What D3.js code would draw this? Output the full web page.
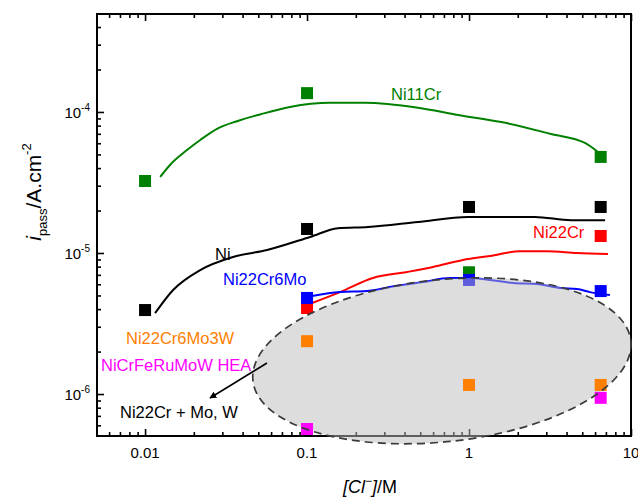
<!DOCTYPE html>
<html>
<head>
<meta charset="utf-8">
<script src="https://cdn.jsdelivr.net/npm/d3@7"></script>
<style>
  body { margin: 0; background: #fff; }
  svg text { font-family: Arial, "Liberation Sans", sans-serif; }
</style>
</head>
<body>
<div id="chart"></div>
<script>
// measured points [concentration M, i_pass A/cm2]
var ni11crPts = [[0.01, 3.24e-5], [0.1, 1.36e-4], [1, 7.3e-6], [6.5, 4.8e-5]];
var niPts = [[0.01, 3.94e-6], [0.1, 1.48e-5], [1, 2.12e-5], [6.5, 2.12e-5]];
var ni22crPts = [[0.1, 4.07e-6], [6.5, 1.32e-5]];
var ni22cr6moPts = [[0.1, 4.8e-6], [1, 6.44e-6], [6.5, 5.37e-6]];
var ni22cr6mo3wPts = [[0.1, 2.37e-6], [1, 1.16e-6], [6.5, 1.16e-6]];
var heaPts = [[0.1, 5.65e-7], [6.5, 9.4e-7]];

// curves
var ni11crCurve = [[0.01239, 3.46e-5], [0.01426, 4.21e-5], [0.01815, 5.37e-5], [0.0219, 6.33e-5],
  [0.0278, 7.6e-5], [0.037, 8.6e-5], [0.0513, 9.6e-5], [0.0785, 1.085e-4], [0.1387, 1.16e-4],
  [0.228, 1.16e-4], [0.484, 1.07e-4], [0.855, 9.52e-5], [1.58, 8.49e-5], [3.21, 6.98e-5],
  [5.2, 6.03e-5], [6.25, 5.2e-5]];
var niCurve = [[0.01153, 3.75e-6], [0.0149, 5.47e-6], [0.0219, 7.57e-6], [0.0349, 9.37e-6],
  [0.0567, 1.05e-5], [0.1045, 1.3e-5], [0.155, 1.5e-5], [0.238, 1.53e-5], [0.484, 1.66e-5],
  [0.986, 1.8e-5], [2.55, 1.8e-5], [4.26, 1.71e-5], [6.92, 1.71e-5]];
var ni22crCurve = [[0.1074, 4.42e-6], [0.16, 5.28e-6], [0.255, 6.65e-6], [0.414, 7.33e-6],
  [0.6, 7.96e-6], [0.918, 8.92e-6], [1.349, 9.53e-6], [2.07, 1.03e-5], [3.03, 1.03e-5],
  [4.64, 1.0e-5], [7.21, 9.84e-6]];
var ni22cr6moCurve = [[0.1074, 4.95e-6], [0.16, 5.28e-6], [0.234, 5.37e-6], [0.325, 5.74e-6],
  [0.52, 6.22e-6], [0.763, 6.65e-6], [1.014, 6.65e-6], [1.349, 6.44e-6], [1.87, 6.12e-6],
  [2.63, 6.02e-6], [3.65, 5.65e-6], [4.64, 5.56e-6], [5.58, 5.28e-6], [7.41, 5.03e-6]];

var xMajor = [0.01, 0.1, 1, 10];
var xMajorLabels = ["0.01", "0.1", "1", "10"];
var xMinor = [0.006, 0.007, 0.008, 0.009, 0.02, 0.03, 0.04, 0.05, 0.06, 0.07, 0.08, 0.09,
  0.2, 0.3, 0.4, 0.5, 0.6, 0.7, 0.8, 0.9, 2, 3, 4, 5, 6, 7, 8, 9];
var yMajor = [1e-6, 1e-5, 1e-4];
var yMajorExp = ["-6", "-5", "-4"];
var yMinor = [6e-7, 7e-7, 8e-7, 9e-7, 2e-6, 3e-6, 4e-6, 5e-6, 6e-6, 7e-6, 8e-6, 9e-6,
  2e-5, 3e-5, 4e-5, 5e-5, 6e-5, 7e-5, 8e-5, 9e-5, 2e-4, 3e-4, 4e-4];

var W = 638, H = 497;
var margin = {top: 14, right: 7, bottom: 61, left: 97};
var w = W - margin.left - margin.right;
var h = H - margin.top - margin.bottom;

var svg = d3.select("#chart").append("svg")
  .attr("width", W)
  .attr("height", H);
var g = svg.append("g").attr("transform", "translate(" + margin.left + "," + margin.top + ")");

var x = d3.scaleLog().domain([0.00505, 10]).range([0, w]);
var y = d3.scaleLog().domain([5.04e-7, 4.95e-4]).range([h, 0]);

// ticks, all inward
function tickLayer(axis, vals, len, tr) {
  var a = g.append("g")
    .attr("transform", tr)
    .call(axis.tickValues(vals).tickSize(len).tickFormat(""));
  a.select(".domain").remove();
  a.selectAll("line").attr("stroke", "#000").attr("stroke-width", 1.6);
}
tickLayer(d3.axisBottom(x), xMajor, -7, "translate(0," + h + ")");
tickLayer(d3.axisBottom(x), xMinor, -4, "translate(0," + h + ")");
tickLayer(d3.axisTop(x), xMajor, -7, "translate(0,0)");
tickLayer(d3.axisTop(x), xMinor, -4, "translate(0,0)");
tickLayer(d3.axisLeft(y), yMajor, -7, "translate(0,0)");
tickLayer(d3.axisLeft(y), yMinor, -4, "translate(0,0)");

g.append("rect")
  .attr("width", w).attr("height", h)
  .attr("fill", "none").attr("stroke", "#000").attr("stroke-width", 2);

// tick labels
g.selectAll(".xlab").data(xMajor).enter().append("text")
  .attr("class", "xlab")
  .attr("x", function(d) { return x(d); })
  .attr("y", h + 22)
  .attr("text-anchor", "middle")
  .attr("font-size", 15)
  .text(function(d, i) { return xMajorLabels[i]; });

var ylab = g.selectAll(".ylab").data(yMajor).enter().append("text")
  .attr("class", "ylab")
  .attr("x", -7)
  .attr("y", function(d) { return y(d) + 6; })
  .attr("text-anchor", "end")
  .attr("font-size", 15);
ylab.append("tspan").text("10");
ylab.append("tspan").attr("dy", -7).attr("font-size", 10).text(function(d, i) { return yMajorExp[i]; });

// axis titles
var xt = svg.append("text")
  .attr("x", 343).attr("y", 493)
  .attr("font-size", 18);
xt.append("tspan").attr("font-style", "italic").text("[Cl");
xt.append("tspan").attr("dy", -8).attr("font-size", 12).attr("font-style", "italic").text("\u2212");
xt.append("tspan").attr("dy", 8).attr("font-style", "italic").text("]");
xt.append("tspan").text("/M");

var yt = svg.append("text")
  .attr("transform", "translate(41,192) rotate(-90)")
  .attr("text-anchor", "middle")
  .attr("font-size", 21);
yt.append("tspan").attr("font-style", "italic").text("i");
yt.append("tspan").attr("dy", 6).attr("font-size", 13).text("pass");
yt.append("tspan").attr("dy", -6).text("/A.cm");
yt.append("tspan").attr("dy", -10).attr("font-size", 13).text("-2");

var line = d3.line()
  .x(function(d) { return x(d[0]); })
  .y(function(d) { return y(d[1]); })
  .curve(d3.curveMonotoneX);

function drawCurve(data, color) {
  g.append("path").datum(data)
    .attr("d", line)
    .attr("fill", "none")
    .attr("stroke", color)
    .attr("stroke-width", 2);
}
function drawSquares(data, color) {
  g.append("g").selectAll("rect").data(data).enter().append("rect")
    .attr("x", function(d) { return x(d[0]) - 6; })
    .attr("y", function(d) { return y(d[1]) - 6; })
    .attr("width", 12).attr("height", 12)
    .attr("fill", color);
}

drawCurve(ni11crCurve, "#008000");
drawCurve(niCurve, "#000");
drawCurve(ni22crCurve, "#ff0000");
drawSquares(ni11crPts, "#008000");
drawSquares(niPts, "#000");
drawSquares(ni22crPts, "#ff0000");
drawCurve(ni22cr6moCurve, "#0000ff");
drawSquares(ni22cr6moPts, "#0000ff");

// grey region for Ni22Cr + Mo, W
var ell = {conc: 0.68, cur: 1.72e-6, rx: 190, ry: 81, rot: -6};
var ellTr = "translate(" + x(ell.conc) + "," + y(ell.cur) + ") rotate(" + ell.rot + ")";
g.append("ellipse")
  .attr("transform", ellTr)
  .attr("rx", ell.rx).attr("ry", ell.ry)
  .attr("fill", "#bcbcbc").attr("fill-opacity", 0.5);

drawSquares(ni22cr6mo3wPts, "#ff8000");
drawSquares(heaPts, "#ff00ff");

g.append("ellipse")
  .attr("transform", ellTr)
  .attr("rx", ell.rx).attr("ry", ell.ry)
  .attr("fill", "none")
  .attr("stroke", "#3a3a3a")
  .attr("stroke-width", 1.7)
  .attr("stroke-dasharray", "8,5");

// labels
var labels = [
  {t: "Ni11Cr", x: 391, y: 100, c: "#008000"},
  {t: "Ni", x: 215, y: 260, c: "#000"},
  {t: "Ni22Cr", x: 533, y: 238, c: "#ff0000"},
  {t: "Ni22Cr6Mo", x: 223, y: 285, c: "#0000ff"},
  {t: "Ni22Cr6Mo3W", x: 126, y: 344, c: "#ff8000"},
  {t: "NiCrFeRuMoW HEA", x: 101, y: 371, c: "#ff00ff"},
  {t: "Ni22Cr + Mo, W", x: 120, y: 418, c: "#000"}
];
svg.selectAll(".lab").data(labels).enter().append("text")
  .attr("class", "lab")
  .attr("x", function(d) { return d.x; })
  .attr("y", function(d) { return d.y; })
  .attr("font-size", 16.5)
  .attr("fill", function(d) { return d.c; })
  .text(function(d) { return d.t; });

// arrow
svg.append("defs").append("marker")
  .attr("id", "ah")
  .attr("viewBox", "0 0 10 10")
  .attr("refX", 9).attr("refY", 5)
  .attr("markerWidth", 7).attr("markerHeight", 7)
  .attr("markerUnits", "userSpaceOnUse")
  .attr("orient", "auto")
  .append("path").attr("d", "M0,0 L10,5 L0,10 z").attr("fill", "#000");
svg.append("line")
  .attr("x1", 267).attr("y1", 363)
  .attr("x2", 210).attr("y2", 398)
  .attr("stroke", "#000").attr("stroke-width", 1.6)
  .attr("marker-end", "url(#ah)");
</script>
</body>
</html>
